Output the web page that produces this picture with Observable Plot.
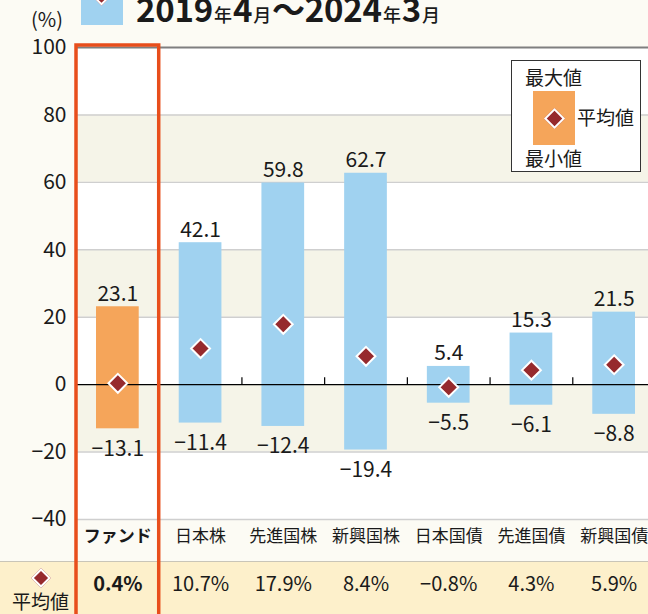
<!DOCTYPE html>
<html><head><meta charset="utf-8">
<script src="https://cdn.jsdelivr.net/npm/d3@7"></script>
<script src="https://cdn.jsdelivr.net/npm/@observablehq/plot@0.6"></script>
<style>
html,body{margin:0;padding:0;background:#fcfbf4;overflow:hidden}
#wrap{position:relative;width:648px;height:614px;overflow:hidden;font-family:"Noto Sans CJK JP","Noto Sans",sans-serif;color:#1a1a1a}
#row{position:absolute;left:0;top:561px;width:648px;height:53px;background:#fdf0cb;border-top:1.5px solid #c9c5b8}
#chart{position:absolute;left:0;top:0}
.abs{position:absolute;white-space:nowrap}
.dia{position:absolute;width:13px;height:13px;background:#962a2d;border:2px solid #fff;transform:rotate(45deg);box-sizing:border-box}
#legend{position:absolute;left:511px;top:60px;width:130px;height:112px;border:1px solid #333;background:#fff;box-sizing:border-box}
#title{position:absolute;left:136px;top:-6px;display:flex;align-items:baseline;white-space:nowrap;letter-spacing:-0.2px}
#title b{display:inline-block;font-weight:700;font-size:33px;line-height:0.85}
#title span{display:inline-block;font-weight:500;font-size:18px;line-height:1;margin:0 1px}
</style></head><body><div id="wrap">
<div id="row"></div>
<div id="chart"></div>
<div class="abs" style="left:31px;top:9px;font-size:20px;line-height:20px">(%)</div>
<div class="abs" style="left:81px;top:0;width:42px;height:25px;background:#a0d2f0;overflow:hidden"><div class="dia" style="left:14px;top:-10px"></div></div>
<div id="title"><b>2019</b><span>年</span><b>4</b><span>月</span><b>～2024</b><span>年</span><b>3</b><span>月</span></div>
<div id="legend">
  <div class="abs" style="left:13px;top:2px;font-size:19px">最大値</div>
  <div class="abs" style="left:21px;top:30px;width:42px;height:54px;background:#f5a55a"></div>
  <div class="dia" style="left:35px;top:50px;width:15px;height:15px"></div>
  <div class="abs" style="left:65px;top:42px;font-size:19px">平均値</div>
  <div class="abs" style="left:13px;top:83px;font-size:19px">最小値</div>
</div>
<div class="dia" style="left:34px;top:571px;width:14px;height:14px"></div>
<div class="abs" style="left:12px;top:587px;font-size:19px">平均値</div>
</div>
<script>
const categories = ["ファンド","日本株","先進国株","新興国株","日本国債","先進国債","新興国債"];
const maxValues = [23.1, 42.1, 59.8, 62.7, 5.4, 15.3, 21.5];
const minValues = [-13.1, -11.4, -12.4, -19.4, -5.5, -6.1, -8.8];
const avgValues = [0.4, 10.7, 17.9, 8.4, -0.8, 4.3, 5.9];
const yTicks = [-40, -20, 0, 20, 40, 60, 80, 100];
const shadedBands = [[60, 80], [20, 40], [-20, 0]];

const rows = categories.map((c, i) => ({cat: c, max: maxValues[i], min: minValues[i], avg: avgValues[i], fund: i === 0}));
const num = v => (v < 0 ? "\u2212" : "") + Math.abs(v).toFixed(1);
const W = 648, H = 614, ML = 76, MR = -7;
const step = (W - ML - MR) / categories.length;
const FONT = '"Noto Sans CJK JP","Noto Sans",sans-serif';

const plot = Plot.plot({
  width: W, height: H,
  marginTop: 47, marginBottom: 95, marginLeft: ML, marginRight: MR,
  style: {background: "transparent", fontFamily: FONT, fontSize: "20px", color: "#1a1a1a", overflow: "hidden"},
  x: {domain: categories, padding: 0, round: false, axis: null},
  y: {domain: [-40, 100], axis: null},
  marks: [
    Plot.frame({fill: "white", stroke: "none"}),
    Plot.rectY(shadedBands, {y1: d => d[0], y2: d => d[1], fill: "#f5f4e8"}),
    Plot.ruleY(yTicks.filter(t => t !== 0 && t !== 100), {stroke: "#cfcfcf", strokeWidth: 1.4}),
    Plot.ruleY([100], {stroke: "#7f7f7f", strokeWidth: 2.2}),
    Plot.axisY({ticks: yTicks, tickSize: 0, tickPadding: 10, label: null, fontSize: 21,
      tickFormat: v => (v < 0 ? "\u2212" : "") + Math.abs(v)}),
    Plot.barY(rows, {x: "cat", y1: "min", y2: "max", fill: d => d.fund ? "#f5a55a" : "#a0d2f0", insetLeft: 20, insetRight: 20}),
    Plot.ruleY([0], {stroke: "#000", strokeWidth: 1.3}),
    Plot.ruleX(categories.slice(1, 6), {x: d => d, y1: 0, y2: 0, insetTop: -7, dx: step / 2, stroke: "#000", strokeWidth: 1.2}),
    Plot.dot(rows, {x: "cat", y: "avg", symbol: "diamond2", r: 8.5, fill: "#962a2d", stroke: "white", strokeWidth: 2}),
    Plot.text(rows, {x: "cat", y: "max", text: d => num(d.max), lineAnchor: "bottom", dy: -6, fontSize: 21}),
    Plot.text(rows, {x: "cat", y: "min", text: d => num(d.min), lineAnchor: "bottom", dy: 27, fontSize: 21}),
    Plot.text(rows.filter(d => d.fund), {x: "cat", text: "cat", frameAnchor: "bottom", dy: 22, fontSize: 17, fontWeight: "bold"}),
    Plot.text(rows.filter(d => !d.fund), {x: "cat", text: "cat", frameAnchor: "bottom", dy: 22, fontSize: 17}),
    Plot.text(rows.filter(d => d.fund), {x: "cat", text: d => num(d.avg) + "%", frameAnchor: "bottom", dy: 71, fontSize: 20, fontWeight: "bold"}),
    Plot.text(rows.filter(d => !d.fund), {x: "cat", text: d => num(d.avg) + "%", frameAnchor: "bottom", dy: 71, fontSize: 20}),
    Plot.barY(rows.filter(d => d.fund), {x: "cat", y1: -40, y2: 100, fill: "none", stroke: "#e84e1b", strokeWidth: 3.5, insetTop: -2, insetBottom: -120})
  ]
});
document.getElementById("chart").appendChild(plot);
</script>
</body></html>
